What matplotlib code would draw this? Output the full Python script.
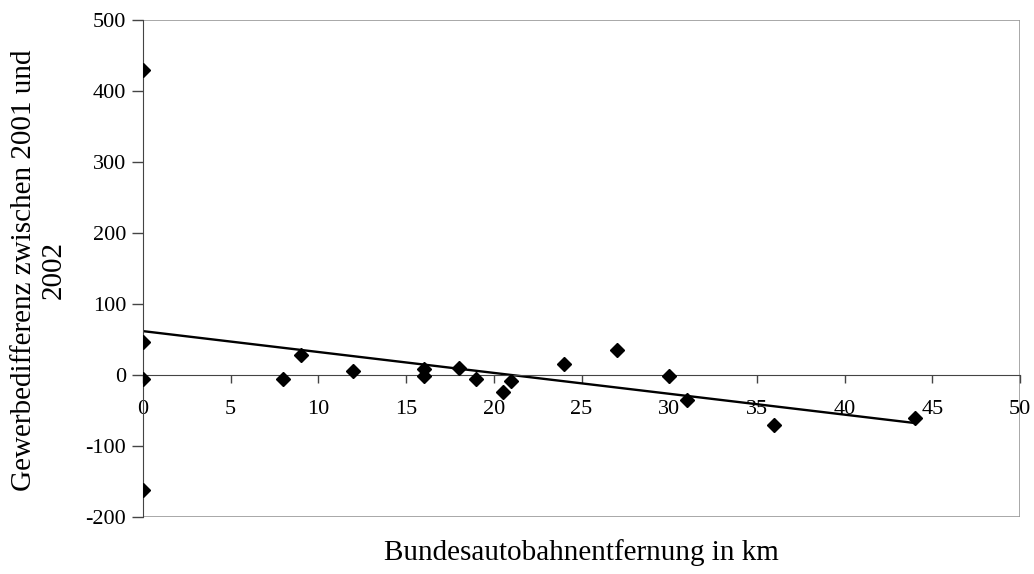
import matplotlib.pyplot as plt
import matplotlib.patches as patches
import numpy as np

plt.rcParams['font.family'] = ['Liberation Serif', 'DejaVu Serif']
plt.rcParams['axes.unicode_minus'] = False

# Entfernung zur Bundesautobahn (km) und Gewerbedifferenz 2001/2002
entfernung = [0, 0, 0, 0, 8, 9, 12, 16, 16, 18, 19, 20.5, 21, 24, 27, 30, 31, 36, 44]
differenz = [430, 46, -5, -162, -5, 28, 6, 8, -2, 10, -5, -24, -8, 15, 35, -2, -35, -70, -61]

x_ticks = [0, 5, 10, 15, 20, 25, 30, 35, 40, 45, 50]
y_ticks = [-200, -100, 0, 100, 200, 300, 400, 500]

fig = plt.figure(figsize=(10.34, 5.74), dpi=100)
ax = fig.add_axes([143 / 1034, 1 - 517 / 574, (1020 - 143) / 1034, (517 - 20) / 574])

# Punkte
ax.plot(entfernung, differenz, 'kD', markersize=7, linestyle='none', zorder=3)

# linearer Trend
m, b = np.polyfit(entfernung, differenz, 1)
xs = np.array([0, max(entfernung)])
ax.plot(xs, m * xs + b, color='black', linewidth=1.7, zorder=2)

ax.set_xlim(0, 50)
ax.set_ylim(-200, 500)
ax.set_xticks(x_ticks)
ax.set_yticks(y_ticks)

# Achsen wie im Excel-Diagramm
ax.spines['bottom'].set_position(('data', 0))
ax.spines['bottom'].set_color('#444444')
ax.spines['left'].set_color('#444444')
ax.spines['top'].set_visible(False)
ax.spines['right'].set_visible(False)
ax.add_patch(patches.Rectangle((0, 0), 1, 1, transform=ax.transAxes, fill=False,
                               edgecolor='#999999', linewidth=1.2, zorder=0))

ax.tick_params(axis='x', direction='out', length=6, width=1, color='#444444',
               labelsize=16, pad=12)
ax.tick_params(axis='y', direction='out', length=8, width=1, color='#444444',
               labelsize=16, pad=4)

fig.text(39 / 1034, 1 - 270 / 574, 'Gewerbedifferenz zwischen 2001 und\n2002',
         fontsize=21, rotation=90, ha='center', va='center', multialignment='center')
fig.text((143 + 1020) / 2 / 1034, 1 - 553 / 574, 'Bundesautobahnentfernung in km',
         fontsize=21, ha='center', va='center')

plt.savefig('out.png', dpi=100)
